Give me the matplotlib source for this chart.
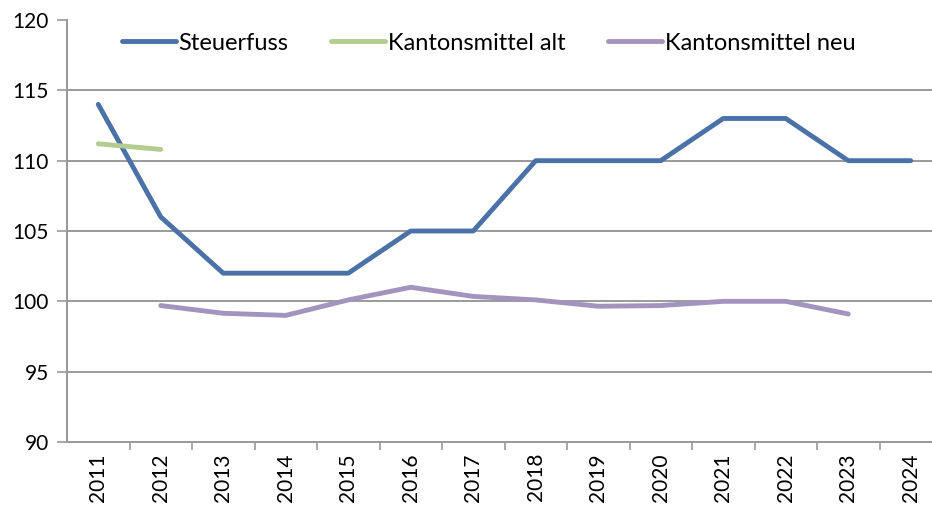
import numpy as np
import matplotlib.pyplot as plt

plt.rcParams['font.family'] = ['Lato', 'DejaVu Sans']
plt.rcParams['font.size'] = 15

years = [str(y) for y in range(2011, 2025)]
steuerfuss = [114, 106, 102, 102, 102, 105, 105, 110, 110, 110, 113, 113, 110, 110]
km_alt = [111.2, 110.8] + [np.nan] * 12
km_neu = [np.nan, 99.7, 99.15, 99.0, 100.1, 101.0, 100.35, 100.1, 99.65, 99.7, 100.0, 100.0, 99.1, np.nan]

x = np.arange(len(years))

fig = plt.figure(figsize=(9.32, 5.08), dpi=100)
ax = fig.add_axes([67 / 932, 1 - 442 / 508, 875 / 932, 422 / 508])

ax.plot(x, steuerfuss, color='#4A72A8', lw=3.5, label='Steuerfuss', solid_capstyle='round', solid_joinstyle='round')
ax.plot(x, km_alt, color='#B3CC8F', lw=3.5, label='Kantonsmittel alt', solid_capstyle='round')
ax.plot(x, km_neu, color='#A493BF', lw=3.5, label='Kantonsmittel neu', solid_capstyle='round', solid_joinstyle='round')

# horizontal grid, none at the top or bottom
for yv in range(95, 120, 5):
    ax.axhline(yv, color='#9A9A9A', lw=1.4, zorder=0)

ax.set_ylim(90, 120)
ax.set_yticks(np.arange(90, 121, 5))
ax.set_xlim(-0.5, len(years) - 0.5)
ax.set_xticks(x)
ax.set_xticklabels(years, rotation=90)
ax.set_xticks(x[:-1] + 0.5, minor=True)
ax.tick_params(axis='x', which='major', length=0, pad=8)
ax.tick_params(axis='x', which='minor', length=6, color='#999999', width=1.2)
ax.tick_params(axis='y', length=7, color='#999999', width=1.2, pad=6)

for s in ['top', 'right']:
    ax.spines[s].set_visible(False)
for s in ['left', 'bottom']:
    ax.spines[s].set_color('#999999')
    ax.spines[s].set_linewidth(1.4)

ax.legend(loc='center left', bbox_to_anchor=((122 - 67) / 875, (442 - 43) / 422), ncol=3, frameon=False,
          handlelength=2.3, handletextpad=0.1, columnspacing=1.8, fontsize=17,
          borderaxespad=0, borderpad=0)

plt.savefig('out.png', dpi=100)
